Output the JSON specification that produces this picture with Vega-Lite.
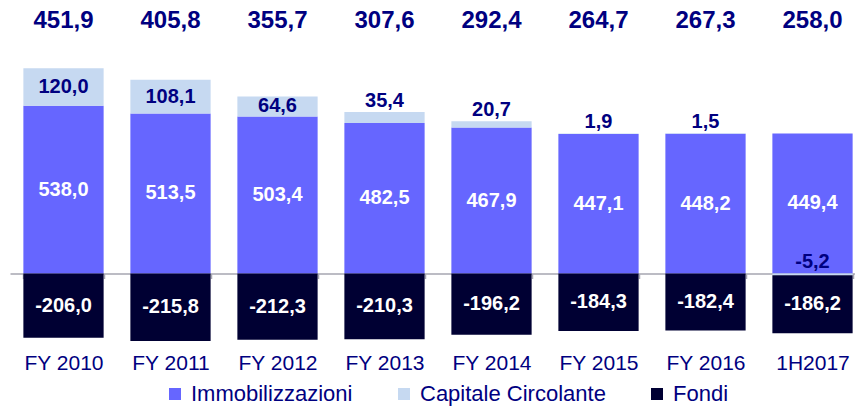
{
  "$schema": "https://vega.github.io/schema/vega-lite/v6.json",
  "width": 845,
  "height": 350,
  "autosize": {"type": "none"},
  "padding": {"left": 10, "top": 0, "right": 0, "bottom": 58},
  "background": "white",
  "config": {
    "view": {"stroke": null},
    "font": "Liberation Sans",
    "locale": {"number": {"decimal": ",", "thousands": ".", "grouping": [3], "currency": ["€", ""], "minus": "-"}}
  },
  "datasets": {
    "parts": [
      {"year": "FY 2010", "series": "Immobilizzazioni", "value": 538.0},
      {"year": "FY 2010", "series": "Capitale Circolante", "value": 120.0},
      {"year": "FY 2010", "series": "Fondi", "value": -206.0},
      {"year": "FY 2011", "series": "Immobilizzazioni", "value": 513.5},
      {"year": "FY 2011", "series": "Capitale Circolante", "value": 108.1},
      {"year": "FY 2011", "series": "Fondi", "value": -215.8},
      {"year": "FY 2012", "series": "Immobilizzazioni", "value": 503.4},
      {"year": "FY 2012", "series": "Capitale Circolante", "value": 64.6},
      {"year": "FY 2012", "series": "Fondi", "value": -212.3},
      {"year": "FY 2013", "series": "Immobilizzazioni", "value": 482.5},
      {"year": "FY 2013", "series": "Capitale Circolante", "value": 35.4},
      {"year": "FY 2013", "series": "Fondi", "value": -210.3},
      {"year": "FY 2014", "series": "Immobilizzazioni", "value": 467.9},
      {"year": "FY 2014", "series": "Capitale Circolante", "value": 20.7},
      {"year": "FY 2014", "series": "Fondi", "value": -196.2},
      {"year": "FY 2015", "series": "Immobilizzazioni", "value": 447.1},
      {"year": "FY 2015", "series": "Capitale Circolante", "value": 1.9},
      {"year": "FY 2015", "series": "Fondi", "value": -184.3},
      {"year": "FY 2016", "series": "Immobilizzazioni", "value": 448.2},
      {"year": "FY 2016", "series": "Capitale Circolante", "value": 1.5},
      {"year": "FY 2016", "series": "Fondi", "value": -182.4},
      {"year": "1H2017", "series": "Immobilizzazioni", "value": 449.4},
      {"year": "1H2017", "series": "Capitale Circolante", "value": -5.2},
      {"year": "1H2017", "series": "Fondi", "value": -186.2}
    ],
    "totals": [
      {"year": "FY 2010", "total": 451.9},
      {"year": "FY 2011", "total": 405.8},
      {"year": "FY 2012", "total": 355.7},
      {"year": "FY 2013", "total": 307.6},
      {"year": "FY 2014", "total": 292.4},
      {"year": "FY 2015", "total": 264.7},
      {"year": "FY 2016", "total": 267.3},
      {"year": "1H2017", "total": 258.0}
    ]
  },
  "encoding": {
    "x": {
      "field": "year",
      "type": "nominal",
      "sort": null,
      "title": null,
      "scale": {"range": [0, 856], "paddingInner": 0.25, "paddingOuter": 0.125},
      "axis": {
        "orient": "bottom",
        "offset": -76.5,
        "domainColor": "#A6A6B0",
        "domainWidth": 1.5,
        "ticks": true,
        "tickBand": "extent",
        "tickColor": "#A6A6B0",
        "tickSize": 5,
        "tickWidth": 1.5,
        "labelPadding": 85,
        "labelFontSize": 21,
        "labelColor": "#000080",
        "labelFont": "Liberation Sans",
        "labelBaseline": "middle",
        "labelAngle": 0,
        "labelOverlap": false,
        "labelBound": false,
        "grid": false,
        "title": null
      }
    }
  },
  "layer": [
    {
      "data": {"name": "parts"},
      "transform": [
        {"calculate": "indexof(['Immobilizzazioni','Capitale Circolante','Fondi'], datum.series)", "as": "ord"},
        {"stack": "value", "groupby": ["year"], "sort": [{"field": "ord", "order": "ascending"}], "as": ["v0", "v1"]},
        {"calculate": "(datum.v0 + datum.v1) / 2", "as": "mid"},
        {"calculate": "max(datum.v0, datum.v1)", "as": "top"}
      ],
      "layer": [
        {
          "mark": {"type": "bar"},
          "encoding": {
            "y": {"field": "v0", "type": "quantitative", "scale": {"domain": [-245, 877], "nice": false}, "axis": null},
            "y2": {"field": "v1"},
            "color": {
              "field": "series",
              "type": "nominal",
              "scale": {"domain": ["Immobilizzazioni", "Capitale Circolante", "Fondi"], "range": ["#6666FF", "#C6D9F1", "#000033"]},
              "legend": {
                "title": null,
                "orient": "none",
                "legendX": 154,
                "legendY": 383,
                "direction": "horizontal",
                "symbolType": "square",
                "symbolSize": 144,
                "symbolStrokeWidth": 0,
                "symbolOpacity": 1,
                "labelFontSize": 22,
                "labelColor": "#000080",
                "labelFont": "Liberation Sans",
                "labelOffset": 5,
                "columnPadding": 40,
                "labelLimit": 400
              }
            }
          }
        },
        {
          "transform": [{"filter": "datum.series !== 'Capitale Circolante'"}],
          "mark": {"type": "text", "font": "Liberation Sans", "fontWeight": "bold", "fontSize": 20, "color": "white", "baseline": "middle"},
          "encoding": {
            "y": {"field": "mid", "type": "quantitative"},
            "text": {"field": "value", "type": "quantitative", "format": ".1f"}
          }
        },
        {
          "transform": [{"filter": "datum.series === 'Capitale Circolante' && abs(datum.value) >= 50"}],
          "mark": {"type": "text", "font": "Liberation Sans", "fontWeight": "bold", "fontSize": 20, "color": "#000080", "baseline": "middle"},
          "encoding": {
            "y": {"field": "mid", "type": "quantitative"},
            "text": {"field": "value", "type": "quantitative", "format": ".1f"}
          }
        },
        {
          "transform": [{"filter": "datum.series === 'Capitale Circolante' && abs(datum.value) < 50"}],
          "mark": {"type": "text", "font": "Liberation Sans", "fontWeight": "bold", "fontSize": 20, "color": "#000080", "baseline": "middle", "dy": -11.5},
          "encoding": {
            "y": {"field": "top", "type": "quantitative"},
            "text": {"field": "value", "type": "quantitative", "format": ".1f"}
          }
        }
      ]
    },
    {
      "data": {"name": "totals"},
      "mark": {"type": "text", "font": "Liberation Sans", "fontWeight": "bold", "fontSize": 24, "color": "#000080", "baseline": "middle"},
      "encoding": {
        "y": {"datum": 809, "type": "quantitative"},
        "text": {"field": "total", "type": "quantitative", "format": ".1f"}
      }
    }
  ]
}
